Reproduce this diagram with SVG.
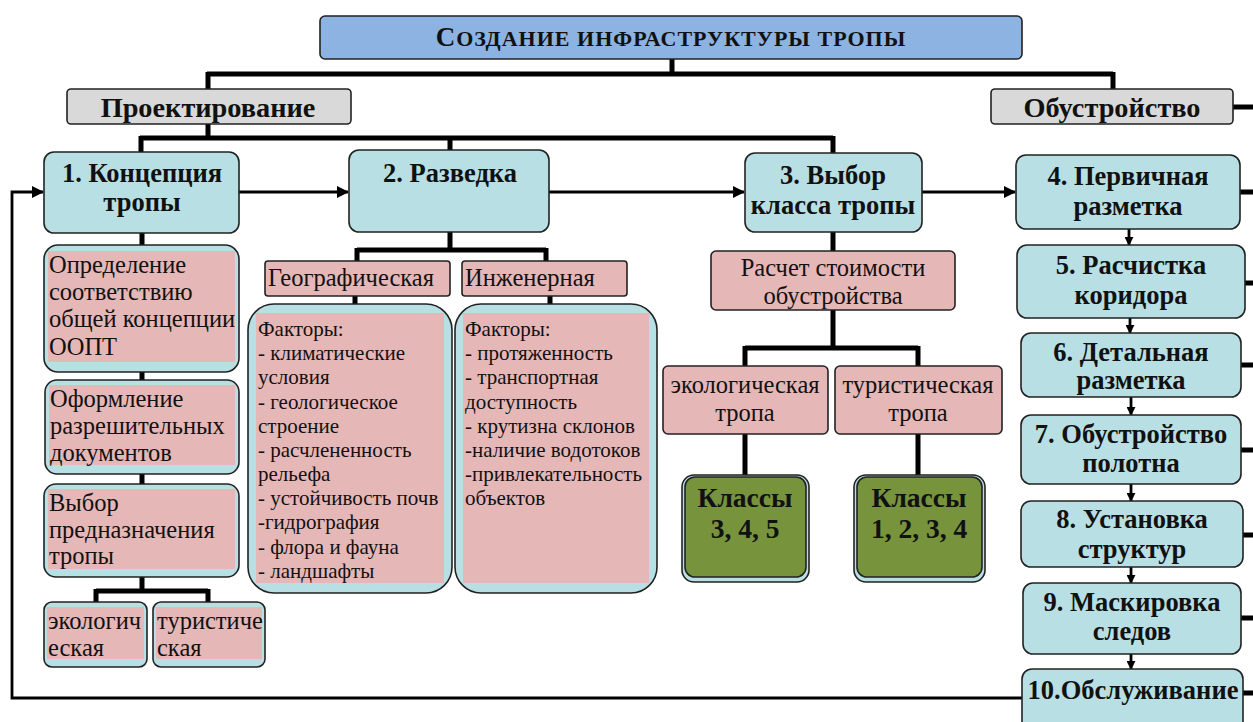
<svg xmlns="http://www.w3.org/2000/svg" width="1253" height="722" viewBox="0 0 1253 722" font-family="Liberation Serif, serif">
<style>
text{font-family:"Liberation Serif",serif;fill:#111}
.b{font-weight:bold}
.c{text-anchor:middle}
.r{font-size:24.5px}
.f{font-size:21px}
.n{font-size:26.5px;font-weight:bold;text-anchor:middle}
.k{font-size:27.5px;font-weight:bold;text-anchor:middle}
.blue{fill:#b8dfe3;stroke:#222;stroke-width:1.6}
.pink{fill:#e6b7b7}
.pinkb{fill:#e6b7b7;stroke:#222;stroke-width:1.6}
.gray{fill:#d9d9d9;stroke:#222;stroke-width:1.6}
.green{fill:#77933c;stroke:#222;stroke-width:1.6}
.thick{fill:none;stroke:#000;stroke-width:5}
.thin{fill:none;stroke:#000;stroke-width:2.8}
</style>
<defs>
<marker id="ah" markerUnits="userSpaceOnUse" markerWidth="12" markerHeight="12" viewBox="0 0 12 12" refX="11" refY="6" orient="auto">
<path d="M0,0 L12,6 L0,12 z" fill="#000"/>
</marker>
<marker id="as" markerUnits="userSpaceOnUse" markerWidth="9" markerHeight="9" viewBox="0 0 10 10" refX="9" refY="5" orient="auto">
<path d="M0,0 L10,5 L0,10 z" fill="#000"/>
</marker>
</defs>
<rect width="1253" height="722" fill="#fff"/>
<g id="connectors">
<path class="thick" d="M672,59 V74 M207,74 H1113 M208,72 V90 M1113,72 V90"/>
<path class="thick" d="M1233,107 H1253"/>
<path class="thick" d="M208,124 V138 M140,138 H833 M141,136 V152 M450,136 V150 M833,136 V153"/>
<path class="thin" marker-end="url(#ah)" d="M239,192 H348"/>
<path class="thin" marker-end="url(#ah)" d="M549,192 H744"/>
<path class="thin" marker-end="url(#ah)" d="M922,192 H1015"/>
<path class="thin" marker-end="url(#ah)" d="M1022,698 H12 V192 H43"/>
<path class="thick" d="M142,233 V246 M142,372 V381 M142,474 V485 M142,577 V591 M96,591 H208 M96,589 V603 M208,589 V603"/>
<path class="thick" d="M450,232 V250 M357,250 H546 M357,248 V262 M546,248 V262 M355,296 V306 M550,296 V306"/>
<path class="thick" d="M833,232 V251 M833,310 V348 M745,348 H918 M745,346 V367 M918,346 V367 M745,434 V476 M918,434 V476"/>
<path class="thin" marker-end="url(#as)" d="M1129,229 V245"/>
<path class="thin" marker-end="url(#as)" d="M1130,318 V333"/>
<path class="thin" marker-end="url(#as)" d="M1131,397 V415"/>
<path class="thin" marker-end="url(#as)" d="M1131,484 V501"/>
<path class="thin" marker-end="url(#as)" d="M1131,567 V583"/>
<path class="thin" marker-end="url(#as)" d="M1131,654 V669"/>
<path class="thick" d="M1240,192 H1253 M1245,283 H1253 M1241,365 H1253 M1241,450 H1253 M1243,535 H1253 M1241,618 H1253 M1243,693 H1253"/>
</g>
<g id="title">
<rect x="320" y="16" width="702" height="43" rx="5" fill="#8db3e2" stroke="#222" stroke-width="1.6"/>
<text class="b c" x="671" y="46" font-size="22" letter-spacing="1"><tspan font-size="27">С</tspan>ОЗДАНИЕ ИНФРАСТРУКТУРЫ ТРОПЫ</text>
</g>
<g id="proektirovanie">
<rect class="gray" x="67" y="89" width="284" height="35" rx="4"/>
<text class="b c" x="208" y="117" font-size="28.3">Проектирование</text>
</g>
<g id="obustroystvo">
<rect class="gray" x="991" y="89" width="242" height="35" rx="4"/>
<text class="b c" x="1112" y="117" font-size="28.3">Обустройство</text>
</g>
<g id="n1">
<rect class="blue" x="44" y="152" width="195" height="81" rx="10"/>
<text class="n" x="142" y="182">1. Концепция</text>
<text class="n" x="142" y="211">тропы</text>
</g>
<g id="n2">
<rect class="blue" x="349" y="150" width="200" height="82" rx="10"/>
<text class="n" x="450" y="182">2. Разведка</text>
</g>
<g id="n3">
<rect class="blue" x="745" y="153" width="177" height="79" rx="10"/>
<text class="n" x="833" y="184">3. Выбор</text>
<text class="n" x="833" y="214">класса тропы</text>
</g>
<g id="n4">
<rect class="blue" x="1016" y="155" width="224" height="74" rx="10"/>
<text class="n" x="1128" y="185">4. Первичная</text>
<text class="n" x="1128" y="215">разметка</text>
</g>
<g id="n5">
<rect class="blue" x="1017" y="245" width="228" height="73" rx="10"/>
<text class="n" x="1131" y="274">5. Расчистка</text>
<text class="n" x="1131" y="304">коридора</text>
</g>
<g id="n6">
<rect class="blue" x="1021" y="333" width="220" height="64" rx="10"/>
<text class="n" x="1131" y="361">6. Детальная</text>
<text class="n" x="1131" y="389">разметка</text>
</g>
<g id="n7">
<rect class="blue" x="1021" y="415" width="220" height="69" rx="10"/>
<text class="n" x="1131" y="443">7. Обустройство</text>
<text class="n" x="1131" y="472">полотна</text>
</g>
<g id="n8">
<rect class="blue" x="1021" y="501" width="222" height="66" rx="10"/>
<text class="n" x="1132" y="528">8. Установка</text>
<text class="n" x="1132" y="558">структур</text>
</g>
<g id="n9">
<rect class="blue" x="1023" y="583" width="218" height="71" rx="10"/>
<text class="n" x="1132" y="611">9. Маскировка</text>
<text class="n" x="1132" y="640">следов</text>
</g>
<g id="n10">
<rect class="blue" x="1022" y="669" width="221" height="70" rx="10"/>
<text class="n" x="1133" y="699">10.Обслуживание</text>
</g>
<g id="opredelenie">
<rect class="blue" x="44" y="245" width="195" height="127" rx="14"/>
<rect class="pink" x="48" y="251" width="187" height="111"/>
<text class="r" x="49" y="273">Определение</text>
<text class="r" x="49" y="300">соответствию</text>
<text class="r" x="49" y="327">общей концепции</text>
<text class="r" x="49" y="355">ООПТ</text>
</g>
<g id="oformlenie">
<rect class="blue" x="45" y="380" width="194" height="94" rx="12"/>
<rect class="pink" x="49" y="385" width="186" height="80"/>
<text class="r" x="50" y="407">Оформление</text>
<text class="r" x="50" y="434">разрешительных</text>
<text class="r" x="50" y="461">документов</text>
</g>
<g id="vybor">
<rect class="blue" x="44" y="484" width="195" height="93" rx="12"/>
<rect class="pink" x="48" y="489" width="187" height="80"/>
<text class="r" x="49" y="511">Выбор</text>
<text class="r" x="49" y="538">предназначения</text>
<text class="r" x="49" y="564">тропы</text>
</g>
<g id="ekolog1">
<rect class="blue" x="44" y="602" width="103" height="65" rx="8"/>
<rect class="pink" x="47" y="607" width="97" height="52"/>
<text class="r" x="48" y="629">экологич</text>
<text class="r" x="48" y="656">еская</text>
</g>
<g id="turist1">
<rect class="blue" x="153" y="602" width="112" height="65" rx="8"/>
<rect class="pink" x="156" y="607" width="106" height="52"/>
<text class="r" x="157" y="629">туристиче</text>
<text class="r" x="157" y="656">ская</text>
</g>
<g id="geo">
<rect class="pinkb" x="265" y="261" width="185" height="35" rx="3"/>
<text class="r" x="268" y="286">Географическая</text>
</g>
<g id="inzh">
<rect class="pinkb" x="462" y="261" width="165" height="35" rx="3"/>
<text class="r" x="465" y="286">Инженерная</text>
</g>
<g id="geofactors">
<rect class="blue" x="248" y="304" width="204" height="289" rx="26"/>
<rect class="pink" x="256" y="313" width="188" height="270"/>
<text class="f" x="258" y="336">Факторы:</text>
<text class="f" x="258" y="360">- климатические</text>
<text class="f" x="258" y="384">условия</text>
<text class="f" x="258" y="409">- геологическое</text>
<text class="f" x="258" y="433">строение</text>
<text class="f" x="258" y="457">- расчлененность</text>
<text class="f" x="258" y="481">рельефа</text>
<text class="f" x="258" y="505">- устойчивость почв</text>
<text class="f" x="258" y="529">-гидрография</text>
<text class="f" x="258" y="554">- флора и фауна</text>
<text class="f" x="258" y="578">- ландшафты</text>
</g>
<g id="inzhfactors">
<rect class="blue" x="455" y="304" width="202" height="289" rx="26"/>
<rect class="pink" x="463" y="313" width="186" height="270"/>
<text class="f" x="465" y="336">Факторы:</text>
<text class="f" x="465" y="360">- протяженность</text>
<text class="f" x="465" y="384">- транспортная</text>
<text class="f" x="465" y="409">доступность</text>
<text class="f" x="465" y="433">- крутизна склонов</text>
<text class="f" x="465" y="457">-наличие водотоков</text>
<text class="f" x="465" y="481">-привлекательность</text>
<text class="f" x="465" y="505">объектов</text>
</g>
<g id="raschet">
<rect class="pinkb" x="711" y="251" width="244" height="59" rx="5"/>
<text class="r c" x="833" y="276">Расчет стоимости</text>
<text class="r c" x="833" y="304">обустройства</text>
</g>
<g id="ekolog2">
<rect class="pinkb" x="663" y="366" width="165" height="68" rx="5"/>
<text class="r c" x="745" y="393">экологическая</text>
<text class="r c" x="745" y="421">тропа</text>
</g>
<g id="turist2">
<rect class="pinkb" x="835" y="366" width="167" height="68" rx="5"/>
<text class="r c" x="918" y="393">туристическая</text>
<text class="r c" x="918" y="421">тропа</text>
</g>
<g id="klassy1">
<rect class="blue" x="682" y="475" width="127" height="107" rx="12"/>
<rect class="green" x="685" y="477" width="121" height="100" rx="10"/>
<text class="k" x="745" y="507">Классы</text>
<text class="k" x="745" y="538">3, 4, 5</text>
</g>
<g id="klassy2">
<rect class="blue" x="854" y="475" width="131" height="107" rx="12"/>
<rect class="green" x="857" y="477" width="125" height="100" rx="10"/>
<text class="k" x="919" y="507">Классы</text>
<text class="k" x="919" y="538">1, 2, 3, 4</text>
</g>
</svg>
